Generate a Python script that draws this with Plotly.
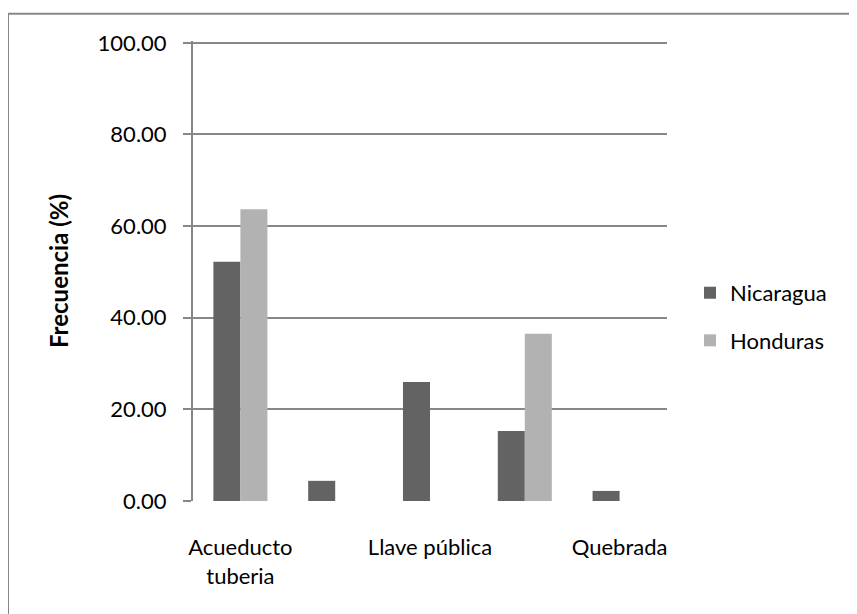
import plotly.graph_objects as go

categories = ["Acueducto<br>tuberia", "", "Llave pública", "", "Quebrada"]
positions = [0, 1, 2, 3, 4]
nicaragua = [52.2, 4.4, 26.0, 15.3, 2.2]
honduras = [63.7, 0, 0, 36.5, 0]
y_ticks = [0, 20, 40, 60, 80, 100]
y_tick_labels = ["0.00", "20.00", "40.00", "60.00", "80.00", "100.00"]

FONT = "Lato"
GRID = "#878787"

fig = go.Figure()
fig.add_trace(go.Bar(x=positions, y=nicaragua, name="Nicaragua",
                     marker=dict(color="#636363", line=dict(width=0)),
                     legendgroup="a"))
fig.add_trace(go.Bar(x=positions, y=honduras, name="Honduras",
                     marker=dict(color="#b2b2b2", line=dict(width=0)),
                     legendgroup="b"))

OFF = 8  # page body margin
W, H = 857 - OFF, 614 - OFF
YMAX = 100.4
px0, px1 = 193 - OFF, 667 - OFF
y0px = 501 - OFF
y100px = 43 - OFF
ph = (y0px - y100px) * YMAX / 100
top = y0px - ph
L, R, T, B = px0, W - px1, top, H - y0px
pw = px1 - px0

bx = (8 - OFF - L) / pw
by = (y0px - (14 - OFF)) / ph

fig.update_layout(
    width=W, height=H,
    margin=dict(l=L, r=R, t=T, b=B, pad=0, autoexpand=False),
    paper_bgcolor="white", plot_bgcolor="white",
    barmode="group", bargap=0.43, bargroupgap=0,
    font=dict(family=FONT, size=22, color="black"),
    showlegend=True,
    legend=dict(x=(690 - OFF - L) / pw, y=(y0px - (317 - OFF)) / ph, xanchor="left", yanchor="middle",
                font=dict(family=FONT, size=22, color="black"),
                traceorder="grouped", tracegroupgap=16,
                bgcolor="rgba(0,0,0,0)"),
    xaxis=dict(range=[-0.5, 4.5], tickmode="array", tickvals=positions, ticktext=categories,
               showgrid=False, showline=False, ticks="", zeroline=False,
               ticklabelstandoff=31,
               tickfont=dict(family=FONT, size=22, color="black"), fixedrange=True),
    yaxis=dict(range=[0, YMAX], tickmode="array", tickvals=y_ticks, ticktext=y_tick_labels,
               showgrid=True, gridcolor=GRID, gridwidth=2,
               showline=True, linecolor=GRID, linewidth=2,
               ticks="outside", ticklen=8, tickcolor=GRID, tickwidth=2,
               zeroline=False, ticklabelstandoff=12,
               tickfont=dict(family=FONT, size=22, color="black"),
               title=dict(text="<b>Frecuencia (%)</b>", standoff=22,
                          font=dict(family=FONT, size=24, color="black"))),
    shapes=[
        dict(type="line", xref="paper", yref="paper", x0=bx, x1=bx, y0=-1, y1=by,
             line=dict(color=GRID, width=2)),
        dict(type="line", xref="paper", yref="paper", x0=bx, x1=3, y0=by, y1=by,
             line=dict(color=GRID, width=2)),
    ],
)

fig.write_html("out.html")
